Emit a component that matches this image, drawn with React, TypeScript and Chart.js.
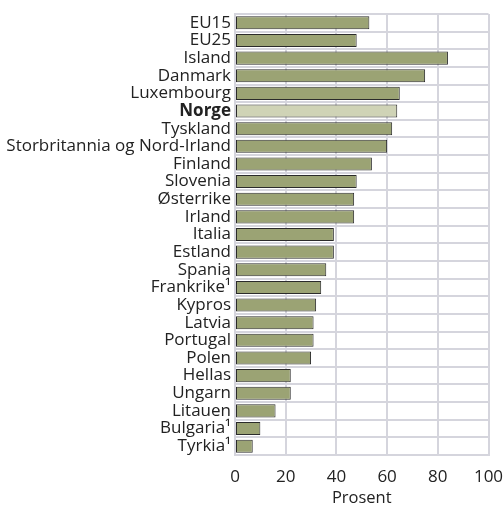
import React, { useEffect, useRef } from "react";
import { Chart, registerables } from "chart.js";

Chart.register(...registerables);

const categories = [
  "EU15", "EU25", "Island", "Danmark", "Luxembourg", "Norge", "Tyskland",
  "Storbritannia og Nord-Irland", "Finland", "Slovenia", "Østerrike", "Irland",
  "Italia", "Estland", "Spania", "Frankrike¹", "Kypros", "Latvia", "Portugal",
  "Polen", "Hellas", "Ungarn", "Litauen", "Bulgaria¹", "Tyrkia¹",
];
const values = [53, 48, 84, 75, 65, 64, 62, 60, 54, 48, 47, 47, 39, 39, 36, 34, 32, 31, 31, 30, 22, 22, 16, 10, 7];
const highlight = "Norge";
const xTicks = [0, 20, 40, 60, 80, 100];
const xTitle = "Prosent";

const FONT = "'Open Sans', sans-serif";
const GRID = "#d5d5dd";

export default function App() {
  const ref = useRef<HTMLCanvasElement | null>(null);
  useEffect(() => {
    document.body.style.margin = "0";
    const ctx = ref.current!;
    const chart = new Chart(ctx, {
      type: "bar",
      data: {
        labels: categories,
        datasets: [
          {
            data: values,
            backgroundColor: categories.map((c) => (c === highlight ? "#cfd3b6" : "#9ba374")),
            borderColor: "#2b2b2b",
            borderWidth: 1,
            borderSkipped: false,
            barPercentage: 0.74,
            categoryPercentage: 1,
          },
        ],
      },
      options: {
        indexAxis: "y",
        animation: false,
        responsive: false,
        maintainAspectRatio: false,
        layout: { padding: { top: 14, right: 15.5, left: 0, bottom: 0 } },
        plugins: { legend: { display: false }, tooltip: { enabled: false } },
        scales: {
          x: {
            min: 0,
            max: 100,
            afterBuildTicks: (s: any) => {
              s.ticks = xTicks.map((v) => ({ value: v }));
            },
            grid: { color: GRID, lineWidth: 2, drawTicks: false },
            border: { color: GRID, width: 2 },
            ticks: { color: "#222", font: { family: FONT, size: 17 }, padding: 12 },
            title: {
              display: true,
              text: xTitle,
              color: "#222",
              font: { family: FONT, size: 16.5 },
              padding: { top: 0, bottom: -2.5 },
            },
            afterFit: (s: any) => {
              s.height = 51;
              s.paddingLeft = 0;
              s.paddingRight = 0;
            },
          },
          y: {
            grid: { color: GRID, lineWidth: 2, drawTicks: false, offset: true },
            border: { color: GRID, width: 2 },
            ticks: {
              color: "#222",
              padding: 4,
              autoSkip: false,
              font: (c: any) => ({
                family: FONT,
                size: 17,
                weight: categories[c.index] === highlight ? "bold" : "normal",
              }),
            },
            afterFit: (s: any) => {
              s.width = 235;
              s.paddingTop = 0;
              s.paddingBottom = 0;
            },
          },
        },
      },
    });
    return () => chart.destroy();
  }, []);
  return (
    <div style={{ width: 504, height: 506 }}>
      <canvas ref={ref} width={504} height={506} style={{ width: 504, height: 506 }} />
    </div>
  );
}
